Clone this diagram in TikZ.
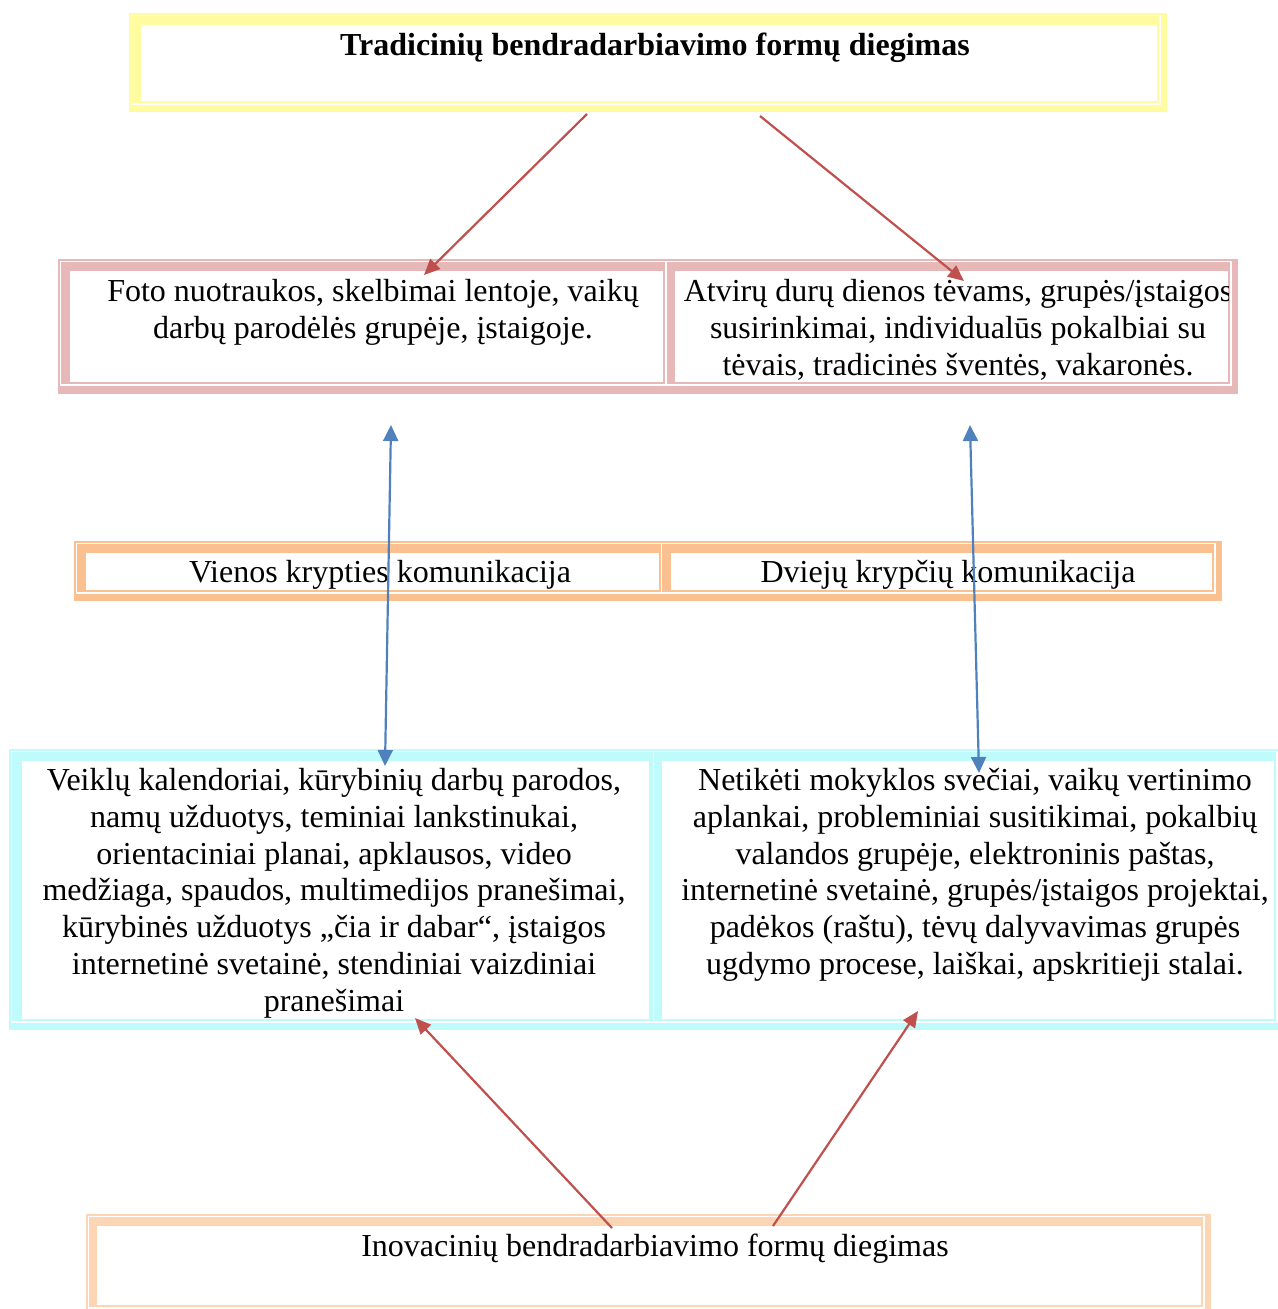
\documentclass[tikz,border=0pt]{standalone}
\usepackage{fontspec}
\setmainfont{Liberation Serif}
\usetikzlibrary{arrows.meta}
\definecolor{cyel}{RGB}{255,252,160}
\definecolor{cpink}{RGB}{230,184,183}
\definecolor{corange}{RGB}{250,192,144}
\definecolor{ccyan}{RGB}{192,251,251}
\definecolor{cpeach}{RGB}{252,213,180}
\definecolor{cred}{RGB}{192,80,77}
\definecolor{cblue}{RGB}{79,129,189}
\tikzset{
  gridline/.style={draw=white,line width=1.3pt},
  cell/.style={fill=white},
  txt/.style={inner sep=0pt,align=center,font=\fontsize{32}{36.8}\selectfont},
  redarrow/.style={draw=cred,line width=2.2pt,-{Triangle[length=16pt,width=14pt]}},
  bluearrow/.style={draw=cblue,line width=2.2pt,{Triangle[length=16pt,width=15pt]}-{Triangle[length=16pt,width=15pt]}},
}
\begin{document}
\begin{tikzpicture}[x=1pt,y=-1pt]
\useasboundingbox (0,0) rectangle (1277,1309);
% Box 1 yellow
\fill[cyel] (129,13) rectangle (1167,112);
\draw[gridline] (131.5,15.5) rectangle (1160,104);
\fill[cell] (141,25) rectangle (1157,101);
\node[txt,anchor=base,font=\fontsize{32}{36.8}\selectfont\bfseries] (title) at (655,55) {Tradicinių bendradarbiavimo formų diegimas};
% Box 2 pink
\fill[cpink] (58,259) rectangle (1238,394);
\draw[gridline] (60.5,261.5) rectangle (1231,385);
\draw[gridline] (666,261.5) -- (666,385);
\fill[cell] (70,271) rectangle (663,382);
\fill[cell] (675,271) rectangle (1228,382);
\node[txt,anchor=north] (foto) at (373,279) {Foto nuotraukos, skelbimai lentoje, vaikų\\darbų parodėlės grupėje, įstaigoje.};
\begin{scope}
\clip (675,271) rectangle (1228,382);
\node[txt,anchor=north] (atv) at (958,279) {Atvirų durų dienos tėvams, grupės/įstaigos\\susirinkimai, individualūs pokalbiai su\\tėvais, tradicinės šventės, vakaronės.};
\end{scope}
% Box 3 orange
\fill[corange] (74,541) rectangle (1222,601);
\draw[gridline] (76.5,543.5) rectangle (1215,593);
\draw[gridline] (661.5,543.5) -- (661.5,593);
\fill[cell] (86,553) rectangle (659,590);
\fill[cell] (671,553) rectangle (1212,590);
\node[txt,anchor=base] (vien) at (380,582) {Vienos krypties komunikacija};
\node[txt,anchor=base] (dvi) at (948,582) {Dviejų krypčių komunikacija};
% Box 4 cyan
\fill[ccyan] (9,749) rectangle (1280,1030);
\draw[gridline] (11.5,751.5) rectangle (1277,1022);
\draw[gridline] (653.5,751.5) -- (653.5,1022);
\fill[cell] (22,761) rectangle (649,1019);
\fill[cell] (662,761) rectangle (1274,1019);
\node[txt,anchor=north] (veik) at (334,768) {Veiklų kalendoriai, kūrybinių darbų parodos,\\namų užduotys, teminiai lankstinukai,\\orientaciniai planai, apklausos, video\\medžiaga, spaudos, multimedijos pranešimai,\\kūrybinės užduotys „čia ir dabar“, įstaigos\\internetinė svetainė, stendiniai vaizdiniai\\pranešimai};
\node[txt,anchor=north] (neti) at (975,768) {Netikėti mokyklos svečiai, vaikų vertinimo\\aplankai, probleminiai susitikimai, pokalbių\\valandos grupėje, elektroninis paštas,\\internetinė svetainė, grupės/įstaigos projektai,\\padėkos (raštu), tėvų dalyvavimas grupės\\ugdymo procese, laiškai, apskritieji stalai.};
% Box 5 peach
\fill[cpeach] (86,1214) rectangle (1211,1312);
\draw[gridline] (88.5,1216.5) rectangle (1204,1308);
\fill[cell] (97,1226) rectangle (1201,1305);
\node[txt,anchor=base] (inov) at (655,1256) {Inovacinių bendradarbiavimo formų diegimas};
% connector endpoints
\coordinate (r1s) at (587,114); \coordinate (r1e) at (424,275);
\coordinate (r2s) at (760,116); \coordinate (r2e) at (964,281);
\coordinate (r3s) at (612,1228); \coordinate (r3e) at (415,1018);
\coordinate (r4s) at (773,1226); \coordinate (r4e) at (918,1011);
\coordinate (b1s) at (391,425); \coordinate (b1e) at (385,766);
\coordinate (b2s) at (970,425); \coordinate (b2e) at (979,773);
\draw[redarrow] (r1s) -- (r1e);
\draw[redarrow] (r2s) -- (r2e);
\draw[redarrow] (r3s) -- (r3e);
\draw[redarrow] (r4s) -- (r4e);
\draw[bluearrow] (b1s) -- (b1e);
\draw[bluearrow] (b2s) -- (b2e);
\end{tikzpicture}
\end{document}
